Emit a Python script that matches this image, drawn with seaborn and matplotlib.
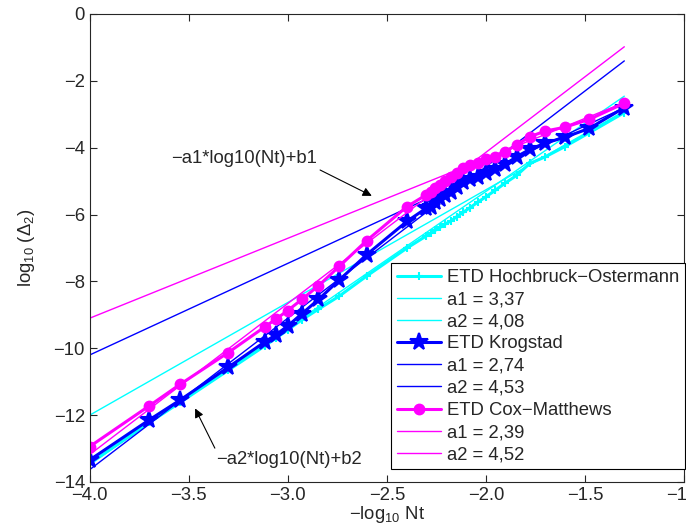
import numpy as np
import pandas as pd
import seaborn as sns
import matplotlib
matplotlib.use("Agg")
import matplotlib.pyplot as plt

# number of time steps used in each run
Nt = [10000, 5000, 3500, 2000, 1300, 1150, 1000, 850, 700, 550, 400, 250,
      200, 190, 180, 170, 160, 150, 140, 130, 120, 110, 100, 90, 80, 70,
      60, 50, 40, 30, 20]

# log10 of the error
err_ho = [-13.45, -12.22, -11.62, -10.66, -9.92, -9.70, -9.45, -9.15, -8.83,
          -8.44, -7.84, -7.00, -6.64, -6.56, -6.47, -6.38, -6.28, -6.19,
          -6.06, -5.93, -5.79, -5.63, -5.47, -5.28, -5.06, -4.83, -4.47,
          -4.27, -3.97, -3.55, -2.95]
err_kr = [-13.34, -12.14, -11.55, -10.57, -9.80, -9.60, -9.33, -8.97, -8.54,
          -7.96, -7.20, -6.20, -5.81, -5.76, -5.63, -5.54, -5.41, -5.32,
          -5.17, -5.02, -4.95, -4.87, -4.77, -4.65, -4.50, -4.27, -4.05,
          -3.86, -3.69, -3.42, -2.80]
err_cm = [-12.94, -11.72, -11.08, -10.13, -9.35, -9.13, -8.87, -8.54, -8.13,
          -7.55, -6.78, -5.76, -5.41, -5.32, -5.21, -5.12, -4.99, -4.87,
          -4.75, -4.62, -4.52, -4.45, -4.35, -4.27, -4.12, -3.92, -3.67,
          -3.50, -3.39, -3.15, -2.67]

# fitted slopes (legend) and intercepts (estimated)
a1 = {"ho": 3.37, "kr": 2.74, "cm": 2.39}
b1 = {"ho": 1.48, "kr": 0.76, "cm": 0.46}
a2 = {"ho": 4.08, "kr": 4.53, "cm": 4.52}
b2 = {"ho": 2.85, "kr": 4.49, "cm": 4.90}
fit_Nt = [10000, 20]

names = {"ho": "ETD Hochbruck\u2212Ostermann", "kr": "ETD Krogstad",
         "cm": "ETD Cox\u2212Matthews"}
errs = {"ho": err_ho, "kr": err_kr, "cm": err_cm}
colors = {"ho": "#00ffff", "kr": "#0000ff", "cm": "#ff00ff"}
markers = {"ho": "+", "kr": "*", "cm": "o"}
msizes = {"ho": 6, "kr": 13, "cm": 7}

sns.set_style("ticks")
plt.rcParams["font.family"] = ["Liberation Sans", "DejaVu Sans"]
plt.rcParams["mathtext.fontset"] = "custom"
plt.rcParams["mathtext.rm"] = "Liberation Sans"
plt.rcParams["mathtext.it"] = "Liberation Sans:italic"
plt.rcParams["font.size"] = 13.3

fig = plt.figure(figsize=(6.86, 5.32), dpi=100)
ax = fig.add_axes([0.1308, 0.094, 0.8662, 0.8797])

x_data = -np.log10(np.array(Nt, dtype=float))
x_fit = -np.log10(np.array(fit_Nt, dtype=float))

for k in ["ho", "kr", "cm"]:
    df = pd.DataFrame({"x": x_data, "y": errs[k]})
    sns.lineplot(data=df, x="x", y="y", ax=ax, color=colors[k], lw=2.2,
                 marker=markers[k], markersize=msizes[k], markeredgewidth=1.5,
                 markeredgecolor=colors[k], sort=False, label=names[k])
    y1 = a1[k] * x_fit + b1[k]
    sns.lineplot(x=x_fit, y=y1, ax=ax, color=colors[k], lw=1,
                 sort=False, label=f"a1 = {a1[k]:.2f}".replace(".", ","))
    y2 = a2[k] * x_fit + b2[k]
    sns.lineplot(x=x_fit, y=y2, ax=ax, color=colors[k], lw=1,
                 sort=False, label=f"a2 = {a2[k]:.2f}".replace(".", ","))

ax.annotate("\u2212a1*log10(Nt)+b1", xy=(-2.576, -5.44), xytext=(-3.59, -4.32),
            va="center", ha="left",
            arrowprops=dict(arrowstyle="-|>", color="black", lw=0.8,
                            shrinkA=0, shrinkB=0,
                            relpos=(0.98, 0.0)))
ax.annotate("\u2212a2*log10(Nt)+b2", xy=(-3.468, -11.80), xytext=(-3.36, -13.34),
            va="center", ha="left",
            arrowprops=dict(arrowstyle="-|>", color="black", lw=0.8,
                            shrinkA=0, shrinkB=0,
                            relpos=(0.0, 1.0)))

ax.set_xlim(-4, -1)
ax.set_ylim(-14, 0)
ax.set_xticks([-4, -3.5, -3, -2.5, -2, -1.5, -1])
ax.set_yticks(range(-14, 1, 2))
ax.tick_params(direction="in", top=True, right=True, length=5, width=0.8)
for s in ax.spines.values():
    s.set_visible(True)
    s.set_linewidth(0.8)
ax.set_xlabel("$-$log$_{10}$ Nt", labelpad=0)
ax.set_ylabel("log$_{10}$ ($\\Delta_2$)", labelpad=12)

leg = ax.legend(loc="lower left", bbox_to_anchor=(0.507, 0.028), frameon=True,
                fancybox=False, edgecolor="black", framealpha=1,
                handlelength=2.4, handletextpad=0.35, labelspacing=0.28,
                borderpad=0.3, borderaxespad=0)
leg.get_frame().set_linewidth(0.8)

fig.savefig("out.png", dpi=100)
